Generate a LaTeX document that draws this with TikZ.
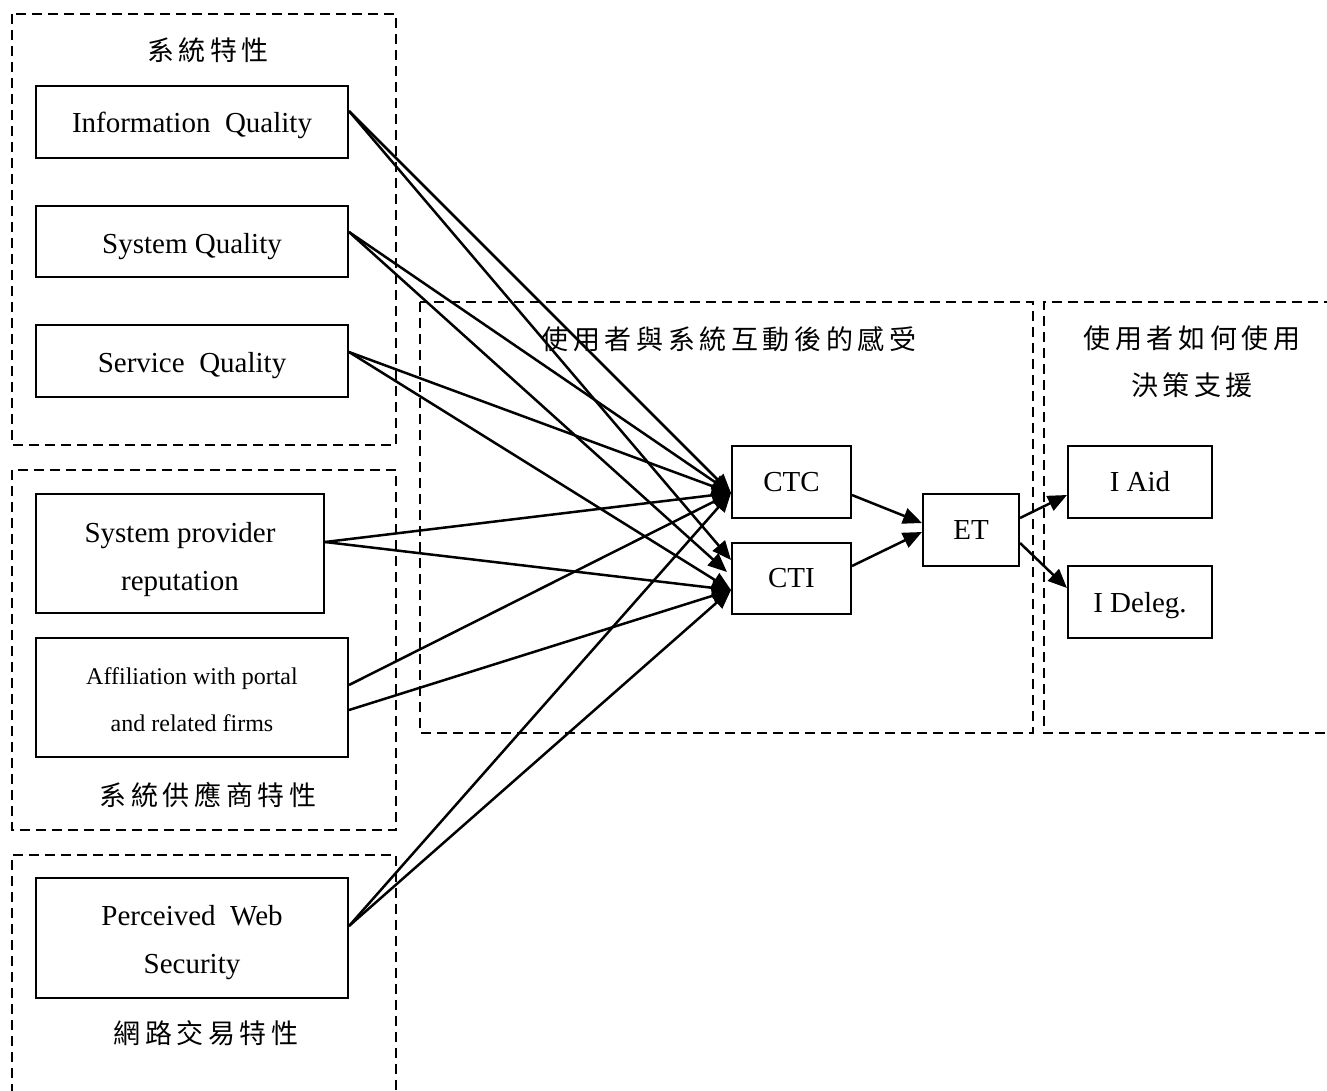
\documentclass[tikz,border=0pt]{standalone}
\usepackage{fontspec}
\setmainfont{Liberation Serif}
\newfontfamily\cjk[LetterSpace=17]{Noto Sans CJK TC}
\usetikzlibrary{arrows.meta}

% invisible strut that lowers a node's text inside its box
\newcommand{\boxstrut}[1]{\rule{0pt}{#1}}

\tikzset{
  box/.style={draw, line width=2pt, inner sep=2pt, align=center,
              font=\fontsize{29}{48}\selectfont},
  group/.style={draw, line width=2pt, dash pattern=on 10pt off 6pt},
  title/.style={inner sep=0pt, align=center, font=\fontsize{27}{47}\selectfont\cjk},
  link/.style={line width=2.5pt, -{Triangle[length=19pt,width=16pt]}}
}

\begin{document}
\begin{tikzpicture}[x=1pt, y=-1pt]
\useasboundingbox (0,0) rectangle (1327,1090);
\clip (0,0) rectangle (1327,1090);

% dashed groups
\draw[group] (12,14) rectangle (396,445);
\draw[group] (12,470) rectangle (396,830);
\draw[group] (12,1110) -- (12,855) -- (396,855) -- (396,1110);
\draw[group] (420,302) rectangle (1033,733);
\draw[group] (1350,302) -- (1044,302) -- (1044,733) -- (1350,733);

% group titles
\node[title] (t1) at (208,50) {系統特性};
\node[title] (t2) at (208,795) {系統供應商特性};
\node[title] (t3) at (206,1033) {網路交易特性};
\node[title] (t4) at (729,339) {使用者與系統互動後的感受};
\node[title] (t5) at (1192,362) {使用者如何使用\\決策支援};

% factor boxes
\node[box, minimum width=312pt, minimum height=72pt] (iq) at (192,122) {\boxstrut{28pt}Information\ \ Quality};
\node[box, minimum width=312pt, minimum height=71pt] (sq) at (192,241.5) {\boxstrut{30pt}System Quality};
\node[box, minimum width=312pt, minimum height=72pt] (svq) at (192,361) {\boxstrut{30pt}Service\ \ Quality};
\node[box, minimum width=288pt, minimum height=119pt] (spr) at (180,553.5) {\boxstrut{32pt}System provider\\reputation};
\node[box, minimum width=312pt, minimum height=119pt,
      font=\fontsize{24}{47}\selectfont] (aff) at (192,697.5) {\boxstrut{21pt}Affiliation with portal\\and related firms};
\node[box, minimum width=312pt, minimum height=120pt] (pws) at (192,938) {\boxstrut{30pt}Perceived\ \ Web\\Security};

% outcome boxes
\node[box, minimum width=119pt, minimum height=72pt] (ctc) at (791.5,482) {CTC};
\node[box, minimum width=119pt, minimum height=71pt] (cti) at (791.5,578.5) {CTI};
\node[box, minimum width=96pt, minimum height=72pt] (et) at (971,530) {ET};
\node[box, minimum width=144pt, minimum height=72pt] (aid) at (1140,482) {I Aid};
\node[box, minimum width=144pt, minimum height=72pt] (deleg) at (1140,602) {\boxstrut{28pt}I Deleg.};

% links into CTC
\draw[link] ([yshift=11pt]iq.east) -- ([yshift=-11pt]ctc.west);
\draw[link] ([yshift=9.5pt]sq.east) -- ([yshift=-11pt]ctc.west);
\draw[link] ([yshift=9pt]svq.east) -- ([yshift=-11pt]ctc.west);
\draw[link] ([yshift=11.5pt]spr.east) -- ([yshift=-11pt]ctc.west);
\draw[link] ([yshift=12.5pt]aff.east) -- ([yshift=-11pt]ctc.west);
\draw[link] ([yshift=12pt]pws.east) -- ([yshift=-11pt]ctc.west);

% links into CTI
\draw[link] ([yshift=11pt]iq.east) -- ([yshift=18.5pt]cti.west);
\draw[link] ([yshift=9.5pt]sq.east) -- ([xshift=-4pt,yshift=6.5pt]cti.west);
\draw[link] ([yshift=9pt]svq.east) -- ([yshift=-11.5pt]cti.west);
\draw[link] ([yshift=11.5pt]spr.east) -- ([yshift=-11.5pt]cti.west);
\draw[link] ([yshift=-12.5pt]aff.east) -- ([yshift=-11.5pt]cti.west);
\draw[link] ([yshift=12pt]pws.east) -- ([yshift=-11.5pt]cti.west);

% perceptions to ET and ET to use
\draw[link] ([yshift=-13pt]ctc.east) -- ([yshift=7pt]et.west);
\draw[link] ([yshift=12.5pt]cti.east) -- ([yshift=-2pt]et.west);
\draw[link] ([yshift=12pt]et.east) -- ([yshift=-13pt]aid.west);
\draw[link] ([yshift=-13pt]et.east) -- ([yshift=14pt]deleg.west);
\end{tikzpicture}
\end{document}
